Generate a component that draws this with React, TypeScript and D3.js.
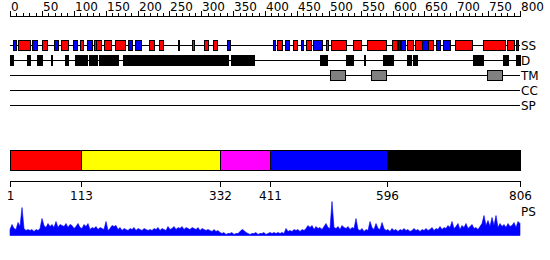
import React, { useEffect } from "react";
import * as d3 from "d3";

const SEQ_LEN = 806;
const rulerTicks = d3.range(0, 801, 10);
const rulerLabels = d3.range(0, 801, 50);

const trackNames = ["SS", "D", "TM", "CC", "SP"];

const ssHelix: [number, number][] = [
  [13, 33], [51, 60], [82, 92], [112, 117], [133, 136], [136, 145], [150, 161], [166, 183],
  [220, 228], [236, 243], [266, 268], [288, 291], [307, 313], [321, 327], [422, 431], [447, 454],
  [469, 476], [499, 503], [507, 531], [542, 555], [564, 594], [604, 612], [627, 637], [641, 651],
  [660, 668], [703, 730], [747, 782], [785, 797],
];
const ssStrand: [number, number][] = [
  [5, 10], [36, 43], [70, 76], [100, 106], [122, 131], [187, 194], [198, 207], [343, 349],
  [416, 420], [435, 442], [461, 464], [479, 493], [613, 617], [618, 625], [652, 660], [673, 679],
  [685, 696], [800, 803],
];
const disorder: [number, number][] = [
  [1, 5], [28, 33], [43, 51], [66, 67], [88, 93], [103, 123], [126, 139], [142, 172], [180, 345],
  [350, 376], [379, 386], [491, 501], [531, 542], [559, 560], [589, 605], [627, 630], [631, 634],
  [637, 643], [732, 748], [779, 787], [800, 806],
];
const tmHelices: [number, number][] = [[506, 529], [571, 594], [754, 777]];

const domainBounds = [1, 113, 332, 411, 596, 806];
const domainColors = ["#ff0000", "#ffff00", "#ff00ff", "#0000ff", "#000000"];

// PS profile, sampled evenly along the sequence
const psValues = [
  6, 11, 7, 6, 13, 9, 28, 7, 5, 6,
  5, 6, 4, 6, 5, 7, 17, 10, 8, 12,
  9, 11, 8, 14, 8, 11, 10, 9, 12, 8,
  11, 10, 7, 9, 12, 8, 7, 11, 9, 12,
  6, 8, 7, 9, 6, 8, 7, 6, 14, 5,
  7, 10, 9, 10, 6, 8, 5, 7, 6, 5,
  7, 6, 8, 5, 7, 6, 5, 7, 6, 5,
  6, 5, 7, 6, 8, 5, 7, 6, 5, 9,
  6, 7, 9, 6, 8, 7, 9, 6, 8, 7,
  6, 8, 7, 6, 8, 5, 7, 6, 5, 6,
  5, 4, 6, 4, 5, 3, 2, 3, 1, 2,
  2, 3, 1, 2, 2, 4, 6, 5, 3, 2,
  1, 2, 2, 3, 1, 2, 2, 3, 1, 2,
  3, 2, 3, 2, 3, 2, 3, 2, 7, 4,
  5, 4, 6, 5, 6, 4, 6, 5, 7, 10,
  8, 10, 6, 9, 7, 8, 6, 9, 12, 8,
  7, 34, 8, 7, 9, 6, 10, 8, 7, 9,
  6, 8, 7, 17, 6, 5, 7, 4, 6, 5,
  14, 8, 6, 12, 7, 6, 13, 7, 5, 6,
  4, 7, 5, 6, 4, 6, 5, 7, 5, 6,
  4, 5, 7, 5, 6, 4, 6, 5, 7, 5,
  6, 8, 5, 7, 6, 9, 6, 8, 7, 10,
  8, 14, 7, 9, 12, 6, 10, 8, 12, 7,
  9, 11, 7, 8, 6, 9, 12, 20, 10, 15,
  9, 18, 10, 20, 8, 12, 9, 11, 8, 12,
  9, 10, 13, 8, 14, 12,
];

const FONT = "'DejaVu Sans', sans-serif";

export default function App() {
  useEffect(() => {
    document.body.style.margin = "0";
  }, []);

  const x = d3.scaleLinear().domain([1, SEQ_LEN]).range([10, 520]);
  const xr = d3.scaleLinear().domain([0, 800]).range([10, 520]);
  const trackY = d3.scalePoint<string>().domain(trackNames).range([45, 105]);
  const yPs = d3.scaleLinear().domain([0, 35]).range([235.5, 200.5]);

  const psStep = (SEQ_LEN - 1) / (psValues.length - 1);
  const psArea = d3
    .area<number>()
    .x((_, i) => x(1 + i * psStep))
    .y0(yPs(0))
    .y1((d) => yPs(d));

  const box = (seg: [number, number], y: number, h: number, fill: string, key: string) => {
    const x0 = Math.round(x(seg[0])) + 0.5;
    const x1 = Math.max(Math.round(x(seg[1])) + 0.5, x0 + 1);
    return (
      <rect key={key} x={x0} y={y - h / 2 + 0.5} width={x1 - x0} height={h}
        fill={fill} stroke="#000" strokeWidth={1} />
    );
  };

  return (
    <svg width={550} height={260} style={{ position: "absolute", left: 0, top: 0, background: "#fff" }}
      fontFamily={FONT} fontSize={12}>
      {/* ruler */}
      <line x1={xr(0)} x2={xr(800)} y1={16.5} y2={16.5} stroke="#000" />
      {rulerTicks.map((t) => {
        const major = t % 50 === 0;
        const xx = Math.round(xr(t)) + 0.5;
        return <line key={t} x1={xx} x2={xx} y1={major ? 11 : 13} y2={17} stroke="#000" />;
      })}
      {rulerLabels.map((t) => (
        <text key={t} x={Math.round(xr(t)) + 1} y={11} textAnchor="start">{t}</text>
      ))}

      {/* tracks */}
      {trackNames.map((n) => (
        <g key={n}>
          <line x1={10} x2={520} y1={trackY(n)! + 0.5} y2={trackY(n)! + 0.5} stroke="#000" />
          <text x={521} y={trackY(n)! + 5}>{n}</text>
        </g>
      ))}
      {ssHelix.map((s, i) => box(s, trackY("SS")!, 10, "#ff0000", "h" + i))}
      {ssStrand.map((s, i) => box(s, trackY("SS")!, 10, "#0000ff", "e" + i))}
      {disorder.map((s, i) => box(s, trackY("D")!, 10, "#000000", "d" + i))}
      {tmHelices.map((s, i) => box(s, trackY("TM")!, 10, "#808080", "t" + i))}

      {/* domain bar */}
      {domainColors.map((c, i) => (
        <rect key={c} x={Math.round(x(domainBounds[i])) + 0.5} y={150.5}
          width={Math.round(x(domainBounds[i + 1])) - Math.round(x(domainBounds[i]))}
          height={20} fill={c} stroke="#000" />
      ))}
      <line x1={x(1)} x2={x(SEQ_LEN)} y1={181.5} y2={181.5} stroke="#000" />
      {domainBounds.map((b) => {
        const xx = Math.round(x(b)) + 0.5;
        return (
          <g key={b}>
            <line x1={xx} x2={xx} y1={181} y2={187} stroke="#000" />
            <text x={xx} y={200} textAnchor="middle">{b}</text>
          </g>
        );
      })}

      {/* PS profile */}
      <path d={psArea(psValues) || ""} fill="#0000ff" stroke="#0000ff" strokeWidth={0.6} />
      <text x={521} y={216}>PS</text>
    </svg>
  );
}
